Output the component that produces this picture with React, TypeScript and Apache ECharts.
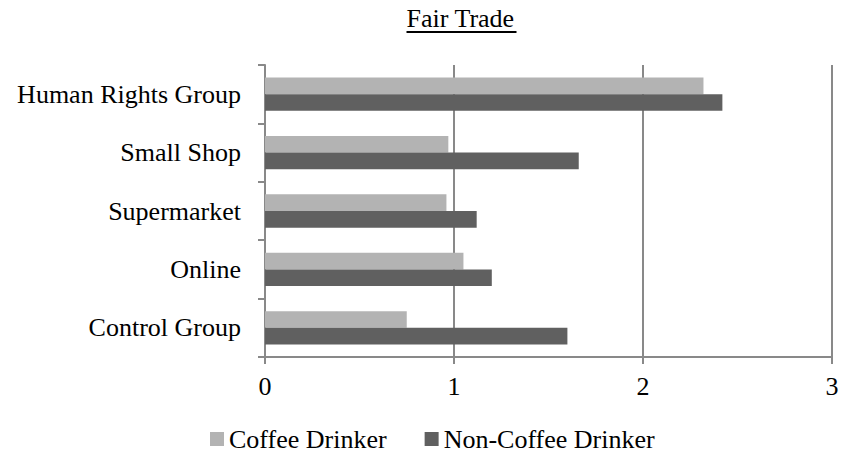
import React, { useEffect, useRef } from "react";
import * as echarts from "echarts";

// Bottom-to-top order on the category axis
const categories = ["Control Group", "Online", "Supermarket", "Small Shop", "Human Rights Group"];
const coffeeDrinker = [0.75, 1.05, 0.96, 0.97, 2.32];
const nonCoffeeDrinker = [1.6, 1.2, 1.12, 1.66, 2.42];
const xTicks = [0, 1, 2, 3];

const FONT = "'Liberation Serif', 'Times New Roman', serif";
const AXIS_GRAY = "#898989";

export default function App() {
  const ref = useRef<HTMLDivElement>(null);

  useEffect(() => {
    if (!ref.current) return;
    const chart = echarts.init(ref.current, undefined, { renderer: "svg" });
    chart.setOption({
      animation: false,
      backgroundColor: "#ffffff",
      textStyle: { fontFamily: FONT },
      graphic: [
        {
          type: "text",
          left: 406.5,
          top: 5,
          style: { text: "Fair Trade", font: `26px ${FONT}`, fill: "#000" },
        },
        {
          type: "line",
          shape: { x1: 406.5, y1: 32, x2: 516.5, y2: 32 },
          style: { stroke: "#000", lineWidth: 2 },
        },
      ],
      legend: {
        data: ["Coffee Drinker", "Non-Coffee Drinker"],
        left: 210,
        top: 426,
        padding: 0,
        itemWidth: 14,
        itemHeight: 14,
        itemGap: 38,
        icon: "rect",
        textStyle: { fontFamily: FONT, fontSize: 26, color: "#000" },
      },
      grid: { left: 265, right: 11, top: 65, bottom: 99, containLabel: false },
      xAxis: {
        type: "value",
        min: xTicks[0],
        max: xTicks[xTicks.length - 1],
        interval: 1,
        axisLine: { show: true, lineStyle: { color: AXIS_GRAY, width: 2 } },
        axisTick: { show: true, length: 7, lineStyle: { color: AXIS_GRAY, width: 2 } },
        splitLine: { show: true, lineStyle: { color: AXIS_GRAY, width: 2 } },
        axisLabel: { fontFamily: FONT, fontSize: 26, color: "#000", margin: 16 },
      },
      yAxis: {
        type: "category",
        data: categories,
        axisLine: { show: true, lineStyle: { color: AXIS_GRAY, width: 2 } },
        axisTick: { show: true, length: 7, lineStyle: { color: AXIS_GRAY, width: 2 } },
        axisLabel: { fontFamily: FONT, fontSize: 26, color: "#000", margin: 24 },
      },
      series: [
        {
          name: "Coffee Drinker",
          type: "bar",
          data: coffeeDrinker,
          barGap: "0%",
          barCategoryGap: "43%",
          itemStyle: { color: "#b3b3b3" },
        },
        {
          name: "Non-Coffee Drinker",
          type: "bar",
          data: nonCoffeeDrinker,
          barGap: "0%",
          barCategoryGap: "43%",
          itemStyle: { color: "#606060" },
        },
      ],
    });
    return () => chart.dispose();
  }, []);

  return (
    <div
      ref={ref}
      style={{ position: "fixed", left: 0, top: 0, width: 843, height: 456 }}
    />
  );
}
